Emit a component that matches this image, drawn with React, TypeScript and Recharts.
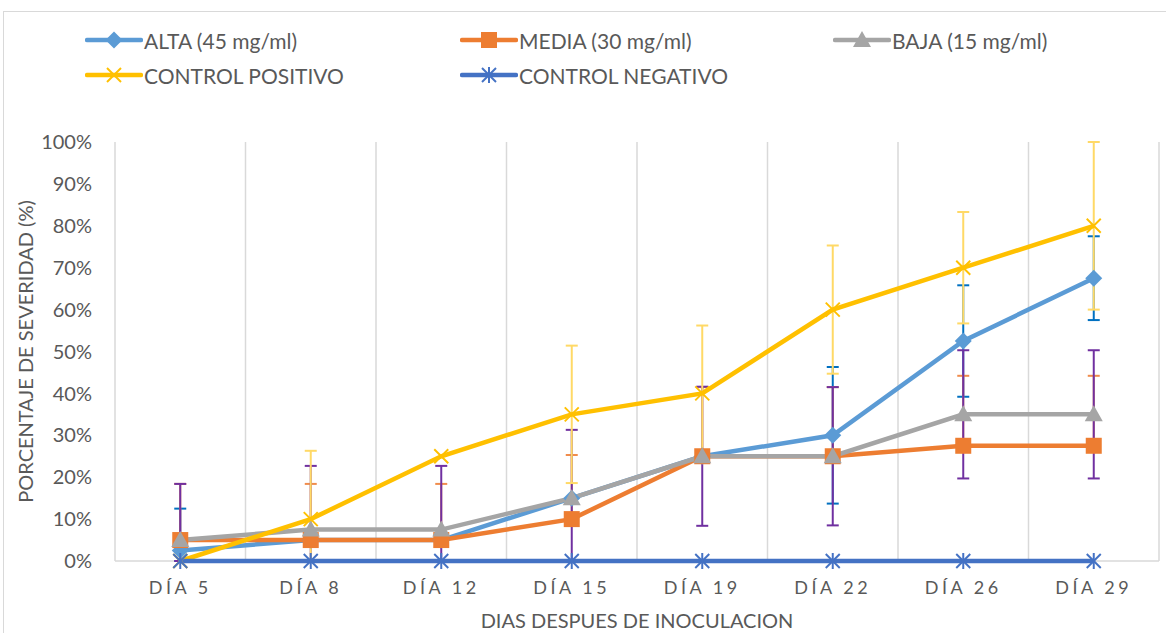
import React from 'react';
import { LineChart, Line, XAxis, YAxis, CartesianGrid, ErrorBar } from 'recharts';

const days = ['DÍA 5', 'DÍA 8', 'DÍA 12', 'DÍA 15', 'DÍA 19', 'DÍA 22', 'DÍA 26', 'DÍA 29'];
const alta = [2.5, 5, 5, 15, 25, 30, 52.5, 67.5];
const media = [5, 5, 5, 10, 25, 25, 27.5, 27.5];
const baja = [5, 7.5, 7.5, 15, 25, 25, 35, 35];
const controlPositivo = [0, 10, 25, 35, 40, 60, 70, 80];
const controlNegativo = [0, 0, 0, 0, 0, 0, 0, 0];

// error amounts (null = no bar drawn)
const errAlta = [10, null, null, null, null, 16.3, 13.3, 10];
const errMedia = [13.4, 13.4, 13.4, 15.3, 16.5, 16.5, 16.7, 16.7];
const errBaja = [13.4, 15.2, 15.2, 16.3, 16.6, 16.5, 15.3, 15.3];
const errPositivo = [null, 16.3, null, 16.4, 16.2, 15.3, 13.3, 20];

const yTicks = [0, 10, 20, 30, 40, 50, 60, 70, 80, 90, 100];

const FONT = 'Lato, "Open Sans", sans-serif';
const TEXT = '#595959';

// symmetric bar, cut at the 0% floor
const sym = (v: number, e: number | null) => (e == null ? null : [Math.min(v, e), e]);

const chartData = days.map((d, i) => ({
  day: d,
  alta: alta[i],
  media: media[i],
  baja: baja[i],
  positivo: controlPositivo[i],
  negativo: controlNegativo[i],
  eAlta: sym(alta[i], errAlta[i]),
  eMedia: errMedia[i] == null ? null : [0, errMedia[i]],
  eBaja: sym(baja[i], errBaja[i]),
  ePositivo: sym(controlPositivo[i], errPositivo[i]),
}));

const series = [
  { key: 'alta', name: 'ALTA (45 mg/ml)', color: '#5B9BD5', marker: 'diamond' },
  { key: 'media', name: 'MEDIA (30 mg/ml)', color: '#ED7D31', marker: 'square' },
  { key: 'baja', name: 'BAJA (15 mg/ml)', color: '#A5A5A5', marker: 'triangle' },
  { key: 'positivo', name: 'CONTROL POSITIVO', color: '#FFC000', marker: 'x' },
  { key: 'negativo', name: 'CONTROL NEGATIVO', color: '#4472C4', marker: 'star' },
];

function Marker({ type, cx, cy, color }: { type: string; cx: number; cy: number; color: string }) {
  if (cx == null || cy == null) return null;
  if (type === 'diamond') {
    const r = 8.5;
    return <polygon points={`${cx},${cy - r} ${cx + r},${cy} ${cx},${cy + r} ${cx - r},${cy}`} fill={color} />;
  }
  if (type === 'square') {
    const s = 16;
    return <rect x={cx - s / 2} y={cy - s / 2} width={s} height={s} fill={color} />;
  }
  if (type === 'triangle') {
    return <polygon points={`${cx},${cy - 9} ${cx + 9},${cy + 7} ${cx - 9},${cy + 7}`} fill={color} />;
  }
  if (type === 'x') {
    const r = 7;
    return (
      <g stroke={color} strokeWidth={2}>
        <line x1={cx - r} y1={cy - r} x2={cx + r} y2={cy + r} />
        <line x1={cx - r} y1={cy + r} x2={cx + r} y2={cy - r} />
      </g>
    );
  }
  const r = 7;
  return (
    <g stroke={color} strokeWidth={2}>
      <line x1={cx - r} y1={cy - r} x2={cx + r} y2={cy + r} />
      <line x1={cx - r} y1={cy + r} x2={cx + r} y2={cy - r} />
      <line x1={cx} y1={cy - r - 1} x2={cx} y2={cy + r + 1} />
    </g>
  );
}

const makeDot = (type: string, color: string) => (props: any) =>
  <Marker key={`${type}-${props.index}`} type={type} cx={props.cx} cy={props.cy} color={color} />;

function LegendBox() {
  const cols = [85, 460, 833];
  const rows = [40, 75];
  return (
    <div style={{ position: 'absolute', left: 0, top: 0, width: 1166, height: 100 }}>
      {series.map((s, i) => {
        const left = cols[i % 3];
        const top = rows[Math.floor(i / 3)];
        return (
          <div key={s.key} style={{ position: 'absolute', left, top: top - 14, height: 28, display: 'flex', alignItems: 'center' }}>
            <svg width={58} height={28}>
              <line x1={2} y1={14} x2={56} y2={14} stroke={s.color} strokeWidth={4.5} strokeLinecap="round" />
              <Marker type={s.marker} cx={29} cy={14} color={s.color} />
            </svg>
            <span style={{ fontFamily: FONT, fontSize: 21, color: TEXT, marginLeft: 1, whiteSpace: 'nowrap' }}>{s.name}</span>
          </div>
        );
      })}
    </div>
  );
}

function YTitle({ viewBox }: any) {
  const cy = viewBox.y + viewBox.height / 2;
  return (
    <text x={25} y={cy} transform={`rotate(-90 25 ${cy})`} textAnchor="middle" dominantBaseline="central"
      fontFamily={FONT} fontSize={20} fill={TEXT}>
      PORCENTAJE DE SEVERIDAD (%)
    </text>
  );
}

function XTitle({ viewBox }: any) {
  const cx = viewBox.x + viewBox.width / 2;
  return (
    <text x={cx} y={620} textAnchor="middle" dominantBaseline="central" fontFamily={FONT} fontSize={20} fill={TEXT}>
      DIAS DESPUES DE INOCULACION
    </text>
  );
}

export default function App() {
  return (
    <div style={{ position: 'absolute', left: 0, top: 0, width: 1166, height: 633, overflow: 'hidden', background: '#fff' }}>
      <div style={{ position: 'absolute', left: 3, top: 11, width: 1200, height: 700, border: '1px solid #D9D9D9' }} />
      <LegendBox />
      <LineChart
        width={1166}
        height={633}
        data={chartData}
        margin={{ top: 142, right: 7, left: 0, bottom: 32 }}
        style={{ position: 'absolute', left: 0, top: 0 }}
      >
        <CartesianGrid
          stroke="#D9D9D9"
          strokeWidth={1.5}
          horizontalCoordinatesGenerator={({ offset }: any) => [offset.top + offset.height]}
          verticalCoordinatesGenerator={({ offset }: any) =>
            days.map((_, i) => offset.left + (i * offset.width) / days.length).concat(offset.left + offset.width)
          }
        />
        <XAxis
          dataKey="day"
          scale="band"
          axisLine={false}
          tickLine={false}
          tickSize={0}
          tickMargin={20}
          height={40}
          interval={0}
          tick={{ fontFamily: FONT, fontSize: 18, fill: TEXT, letterSpacing: 3.5 } as any}
          label={<XTitle />}
        />
        <YAxis
          type="number"
          domain={[0, 100]}
          ticks={yTicks}
          tickFormatter={(v: number) => `${v}%`}
          axisLine={false}
          tickLine={false}
          tickSize={0}
          tickMargin={23}
          width={115}
          tick={{ fontFamily: FONT, fontSize: 20, fill: TEXT }}
          label={<YTitle />}
        />
        <Line dataKey="alta" stroke="#5B9BD5" strokeWidth={4.5} isAnimationActive={false} dot={makeDot('diamond', '#5B9BD5')} activeDot={false}>
          <ErrorBar dataKey="eAlta" stroke="#0070C0" strokeWidth={2} width={6} direction="y" />
        </Line>
        <Line dataKey="media" stroke="#ED7D31" strokeWidth={4.5} isAnimationActive={false} dot={makeDot('square', '#ED7D31')} activeDot={false}>
          <ErrorBar dataKey="eMedia" stroke="#F08C4C" strokeWidth={2} width={6} direction="y" />
        </Line>
        <Line dataKey="baja" stroke="#A5A5A5" strokeWidth={4.5} isAnimationActive={false} dot={makeDot('triangle', '#A5A5A5')} activeDot={false}>
          <ErrorBar dataKey="eBaja" stroke="#7030A0" strokeWidth={2} width={6} direction="y" />
        </Line>
        <Line dataKey="positivo" stroke="#FFC000" strokeWidth={4.5} isAnimationActive={false} dot={makeDot('x', '#FFC000')} activeDot={false}>
          <ErrorBar dataKey="ePositivo" stroke="#FFD966" strokeWidth={2} width={6} direction="y" />
        </Line>
        <Line dataKey="negativo" stroke="#4472C4" strokeWidth={4.5} isAnimationActive={false} dot={makeDot('star', '#4472C4')} activeDot={false} />
      </LineChart>
    </div>
  );
}
